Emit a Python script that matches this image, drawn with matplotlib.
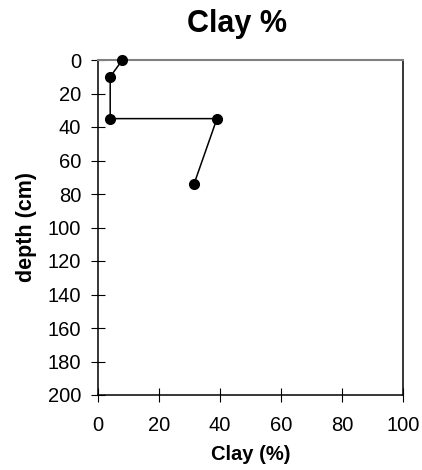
import matplotlib
matplotlib.use("Agg")
import matplotlib.pyplot as plt

plt.rcParams['font.family'] = ['Liberation Sans', 'DejaVu Sans']

# clay profile
clay = [8, 4, 4, 39, 31.5]
depth = [0, 10, 35, 35, 74]

xticks = [0, 20, 40, 60, 80, 100]
yticks = [0, 20, 40, 60, 80, 100, 120, 140, 160, 180, 200]

fig = plt.figure(figsize=(4.22, 4.70), dpi=100)
ax = fig.add_axes([98/422, 1-395/470, 305/422, 335/470])

ax.plot(clay, depth, color="black", lw=1.1, marker="o", markersize=7,
        markerfacecolor="black", markeredgecolor="black", clip_on=False, zorder=5)

ax.set_xlim(0, 100)
ax.set_ylim(200, 0)
ax.set_xticks(xticks)
ax.set_yticks(yticks)
ax.tick_params(direction="inout", length=10, width=0.8, labelsize=14.5)
ax.tick_params(axis="x", pad=10)
ax.tick_params(axis="y", pad=7)

ax.spines["top"].set_color("#808080")
ax.spines["top"].set_linewidth(1.5)
for s in ["left", "right", "bottom"]:
    ax.spines[s].set_linewidth(1.1)

ax.set_xlabel("Clay (%)", fontsize=14.5, fontweight="bold", labelpad=7)
ax.set_ylabel("depth (cm)", fontsize=15.5, fontweight="bold", labelpad=8)
fig.text(237/422, 1-24/470, "Clay %", fontsize=22, fontweight="bold",
         ha="center", va="center")

fig.savefig("out.png", dpi=100)
